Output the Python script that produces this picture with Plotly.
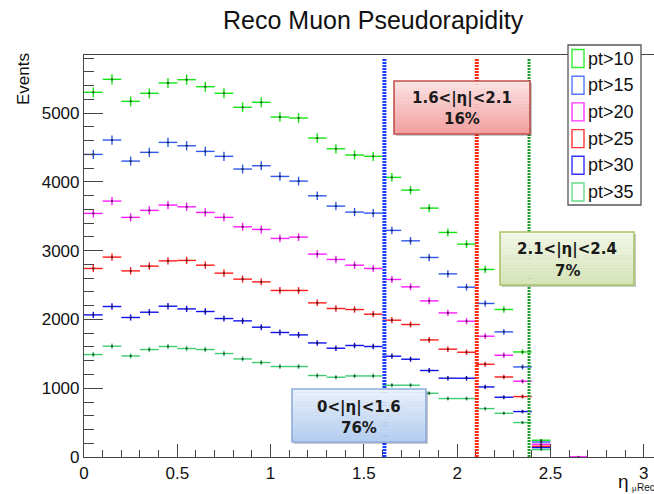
import numpy as np
import plotly.graph_objects as go

# ---------------- data ----------------
eta_bins = [0.05, 0.15, 0.25, 0.35, 0.45, 0.55, 0.65, 0.75, 0.85, 0.95,
            1.05, 1.15, 1.25, 1.35, 1.45, 1.55, 1.65, 1.75, 1.85, 1.95,
            2.05, 2.15, 2.25, 2.35, 2.45, 2.65]

pt10 = [5304, 5493, 5173, 5290, 5440, 5488, 5386, 5290, 5086, 5159,
        4945, 4930, 4639, 4483, 4392, 4373, 4067, 3882, 3620, 3266,
        3096, 2728, 2146, 1528, 244, None]
pt15 = [4401, 4610, 4304, 4431, 4576, 4527, 4445, 4373, 4188, 4236,
        4081, 4013, 3799, 3649, 3562, 3547, 3296, 3144, 2902, 2664,
        2470, 2233, 1820, 1310, 218, None]
pt20 = [3543, 3722, 3485, 3587, 3664, 3639, 3557, 3485, 3348, 3310,
        3179, 3198, 2951, 2873, 2790, 2742, 2582, 2475, 2271, 2096,
        1975, 1757, 1480, 1102, 185, 2]
pt25 = [2742, 2907, 2707, 2776, 2853, 2859, 2790, 2674, 2587, 2547,
        2422, 2422, 2242, 2160, 2145, 2077, 1990, 1927, 1703, 1568,
        1524, 1349, 1164, 879, 156, None]
pt30 = [2067, 2189, 2029, 2106, 2193, 2154, 2116, 2014, 1980, 1888,
        1811, 1776, 1659, 1582, 1622, 1607, 1466, 1422, 1258, 1146,
        1146, 1019, 869, 661, 137, None]
pt35 = [1490, 1611, 1470, 1563, 1607, 1578, 1563, 1505, 1426, 1374,
        1316, 1316, 1185, 1160, 1179, 1179, 1044, 1044, 927, 850,
        850, 704, 636, 501, 108, None]

series_names = ["pt>10", "pt>15", "pt>20", "pt>25", "pt>30", "pt>35"]
series_vals = [pt10, pt15, pt20, pt25, pt30, pt35]
series_colors = ["#12e612", "#3058ee", "#ff1aff", "#ff1a1a", "#1010ee", "#3ccc70"]
legend_colors = ["#33ee33", "#5577ff", "#ff33ff", "#ff3333", "#3333ff", "#66dd88"]

bin_half_width = 0.05
eta_cuts = [1.61, 2.105, 2.385]
cut_colors = ["#1a3cff", "#ff2a10", "#1f9a2f"]
cut_widths = [4, 4, 3]

region_lines = [("1.6<|η|<2.1", "16%"), ("2.1<|η|<2.4", "7%"), ("0<|η|<1.6", "76%")]

x_range = [0, 3.0547]
y_range = [0, 5847]

# ---------------- layout geometry (pixels) ----------------
W, H = 654, 494
L, R, T, B = 84, 654, 55, 457

def px(x):
    return (x - L) / (R - L)

def py(y):
    return (B - y) / (B - T)

FONT = "Liberation Sans, Arial, Helvetica, sans-serif"
BOLD = "DejaVu Sans, Verdana, sans-serif"

fig = go.Figure()

for name, vals, col in zip(series_names, series_vals, series_colors):
    arr = np.array([np.nan if v is None else v for v in vals], dtype=float)
    err = np.sqrt(np.where(np.isnan(arr), 0, arr))
    fig.add_trace(go.Scatter(
        x=eta_bins, y=arr, mode="markers", name=name, showlegend=False,
        marker=dict(size=2, color="rgba(20,20,20,0.7)", symbol="square"),
        error_x=dict(type="constant", value=bin_half_width, width=0,
                     thickness=1.4, color=col),
        error_y=dict(type="data", array=err, width=0, thickness=1.4, color=col),
        hoverinfo="x+y+name",
    ))

shapes = []
annotations = []

# vertical dotted cut lines
for xc, col, lw in zip(eta_cuts, cut_colors, cut_widths):
    shapes.append(dict(type="line", xref="x", yref="paper", x0=xc, x1=xc,
                       y0=0, y1=py(59), line=dict(color=col, width=lw, dash="2px,1px"),
                       layer="above"))

def grad_box(x0, y0, x1, y1, ctop, cbot, border, n=16):
    # shadow
    shapes.append(dict(type="rect", xref="paper", yref="paper",
                       x0=px(x0 + 2), x1=px(x1 + 2), y0=py(y1 + 2), y1=py(y0 + 2),
                       fillcolor="rgba(0,0,0,0.22)", line=dict(width=0), layer="above"))
    h = (y1 - y0) / n
    for i in range(n):
        t = i / (n - 1)
        c = tuple(int(round(ctop[k] + (cbot[k] - ctop[k]) * t)) for k in range(3))
        shapes.append(dict(type="rect", xref="paper", yref="paper",
                           x0=px(x0), x1=px(x1), y0=py(y0 + (i + 1) * h + 0.3), y1=py(y0 + i * h),
                           fillcolor="rgb(%d,%d,%d)" % c, line=dict(width=0), layer="above"))
    shapes.append(dict(type="rect", xref="paper", yref="paper",
                       x0=px(x0), x1=px(x1), y0=py(y1), y1=py(y0),
                       fillcolor="rgba(0,0,0,0)", line=dict(color=border, width=1.6),
                       layer="above"))

def box_text(xc, y1c, y2c, l1, l2):
    annotations.append(dict(xref="paper", yref="paper", x=px(xc), y=py(y1c), text="<b>%s</b>" % l1,
                            showarrow=False, font=dict(family=BOLD, size=15, color="#1a1a1a"),
                            xanchor="center", yanchor="middle"))
    annotations.append(dict(xref="paper", yref="paper", x=px(xc), y=py(y2c), text="<b>%s</b>" % l2,
                            showarrow=False, font=dict(family=BOLD, size=15, color="#1a1a1a"),
                            xanchor="center", yanchor="middle"))

grad_box(394, 81, 530, 134, (253, 226, 226), (243, 160, 160), "#c0504d")
box_text(462, 99, 119, *region_lines[0])
grad_box(500, 232, 634, 285, (242, 247, 230), (214, 228, 184), "#a9c46c")
box_text(567, 249, 271, *region_lines[1])
grad_box(292, 389, 426, 442, (232, 240, 251), (180, 206, 240), "#8eaadb")
box_text(359, 407, 428, *region_lines[2])

# legend (manual, ROOT style)
shapes.append(dict(type="rect", xref="paper", yref="paper", x0=px(568), x1=px(641),
                   y0=py(205), y1=py(45), fillcolor="white",
                   line=dict(color="#555555", width=1.3), layer="above"))
for i, (name, col) in enumerate(zip(series_names, legend_colors)):
    yc = 58.5 + i * 26.7
    shapes.append(dict(type="rect", xref="paper", yref="paper", x0=px(572), x1=px(584),
                       y0=py(yc + 9), y1=py(yc - 9), fillcolor="rgba(0,0,0,0)",
                       line=dict(color=col, width=1.4), layer="above"))
    annotations.append(dict(xref="paper", yref="paper", x=px(586), y=py(yc), text=name,
                            showarrow=False, xanchor="left", yanchor="middle",
                            font=dict(family=FONT, size=18, color="#111")))

# title
annotations.append(dict(xref="paper", yref="paper", x=px(373), y=py(20), text="Reco Muon Pseudorapidity",
                        showarrow=False, xanchor="center", yanchor="middle",
                        font=dict(family=FONT, size=25, color="#111")))
# y title
annotations.append(dict(xref="paper", yref="paper", x=px(24), y=py(79), text="Events",
                        showarrow=False, textangle=-90, xanchor="center", yanchor="middle",
                        font=dict(family=FONT, size=17, color="#111")))
# x title: eta_mu^Rec (ROOT-style stacked sub/superscript)
annotations.append(dict(xref="paper", yref="paper", x=px(630), y=py(481), text="η",
                        showarrow=False, xanchor="right", yanchor="middle", borderpad=0,
                        font=dict(family=FONT, size=19, color="#111")))
annotations.append(dict(xref="paper", yref="paper", x=px(630.5), y=py(488), text="μ",
                        showarrow=False, xanchor="left", yanchor="middle", borderpad=0,
                        font=dict(family=FONT, size=8, color="#111")))
annotations.append(dict(xref="paper", yref="paper", x=px(636), y=py(487.5), text="Rec",
                        showarrow=False, xanchor="left", yanchor="middle", borderpad=0,
                        font=dict(family=FONT, size=10, color="#111")))

fig.update_layout(
    width=W, height=H,
    margin=dict(l=L, r=W - R, t=T, b=H - B, pad=0),
    paper_bgcolor="white", plot_bgcolor="white",
    showlegend=False,
    shapes=shapes, annotations=annotations,
    xaxis=dict(range=x_range, dtick=0.5, tick0=0, ticks="inside", ticklen=13, tickwidth=1,
               tickcolor="#444", showline=True, linecolor="#444", linewidth=1.2, mirror=True,
               showgrid=False, zeroline=False,
               tickfont=dict(family=FONT, size=17, color="#111"),
               minor=dict(ticks="inside", dtick=0.1, ticklen=7, tickcolor="#444", showgrid=False)),
    yaxis=dict(range=y_range, dtick=1000, tick0=0, ticks="inside", ticklen=19, tickwidth=1,
               tickcolor="#444", showline=True, linecolor="#444", linewidth=1.2,
               showgrid=False, zeroline=False, tickformat="d",
               tickfont=dict(family=FONT, size=17, color="#111"),
               minor=dict(ticks="inside", dtick=200, ticklen=10, tickcolor="#444", showgrid=False)),
)

fig.write_html("out.html")
